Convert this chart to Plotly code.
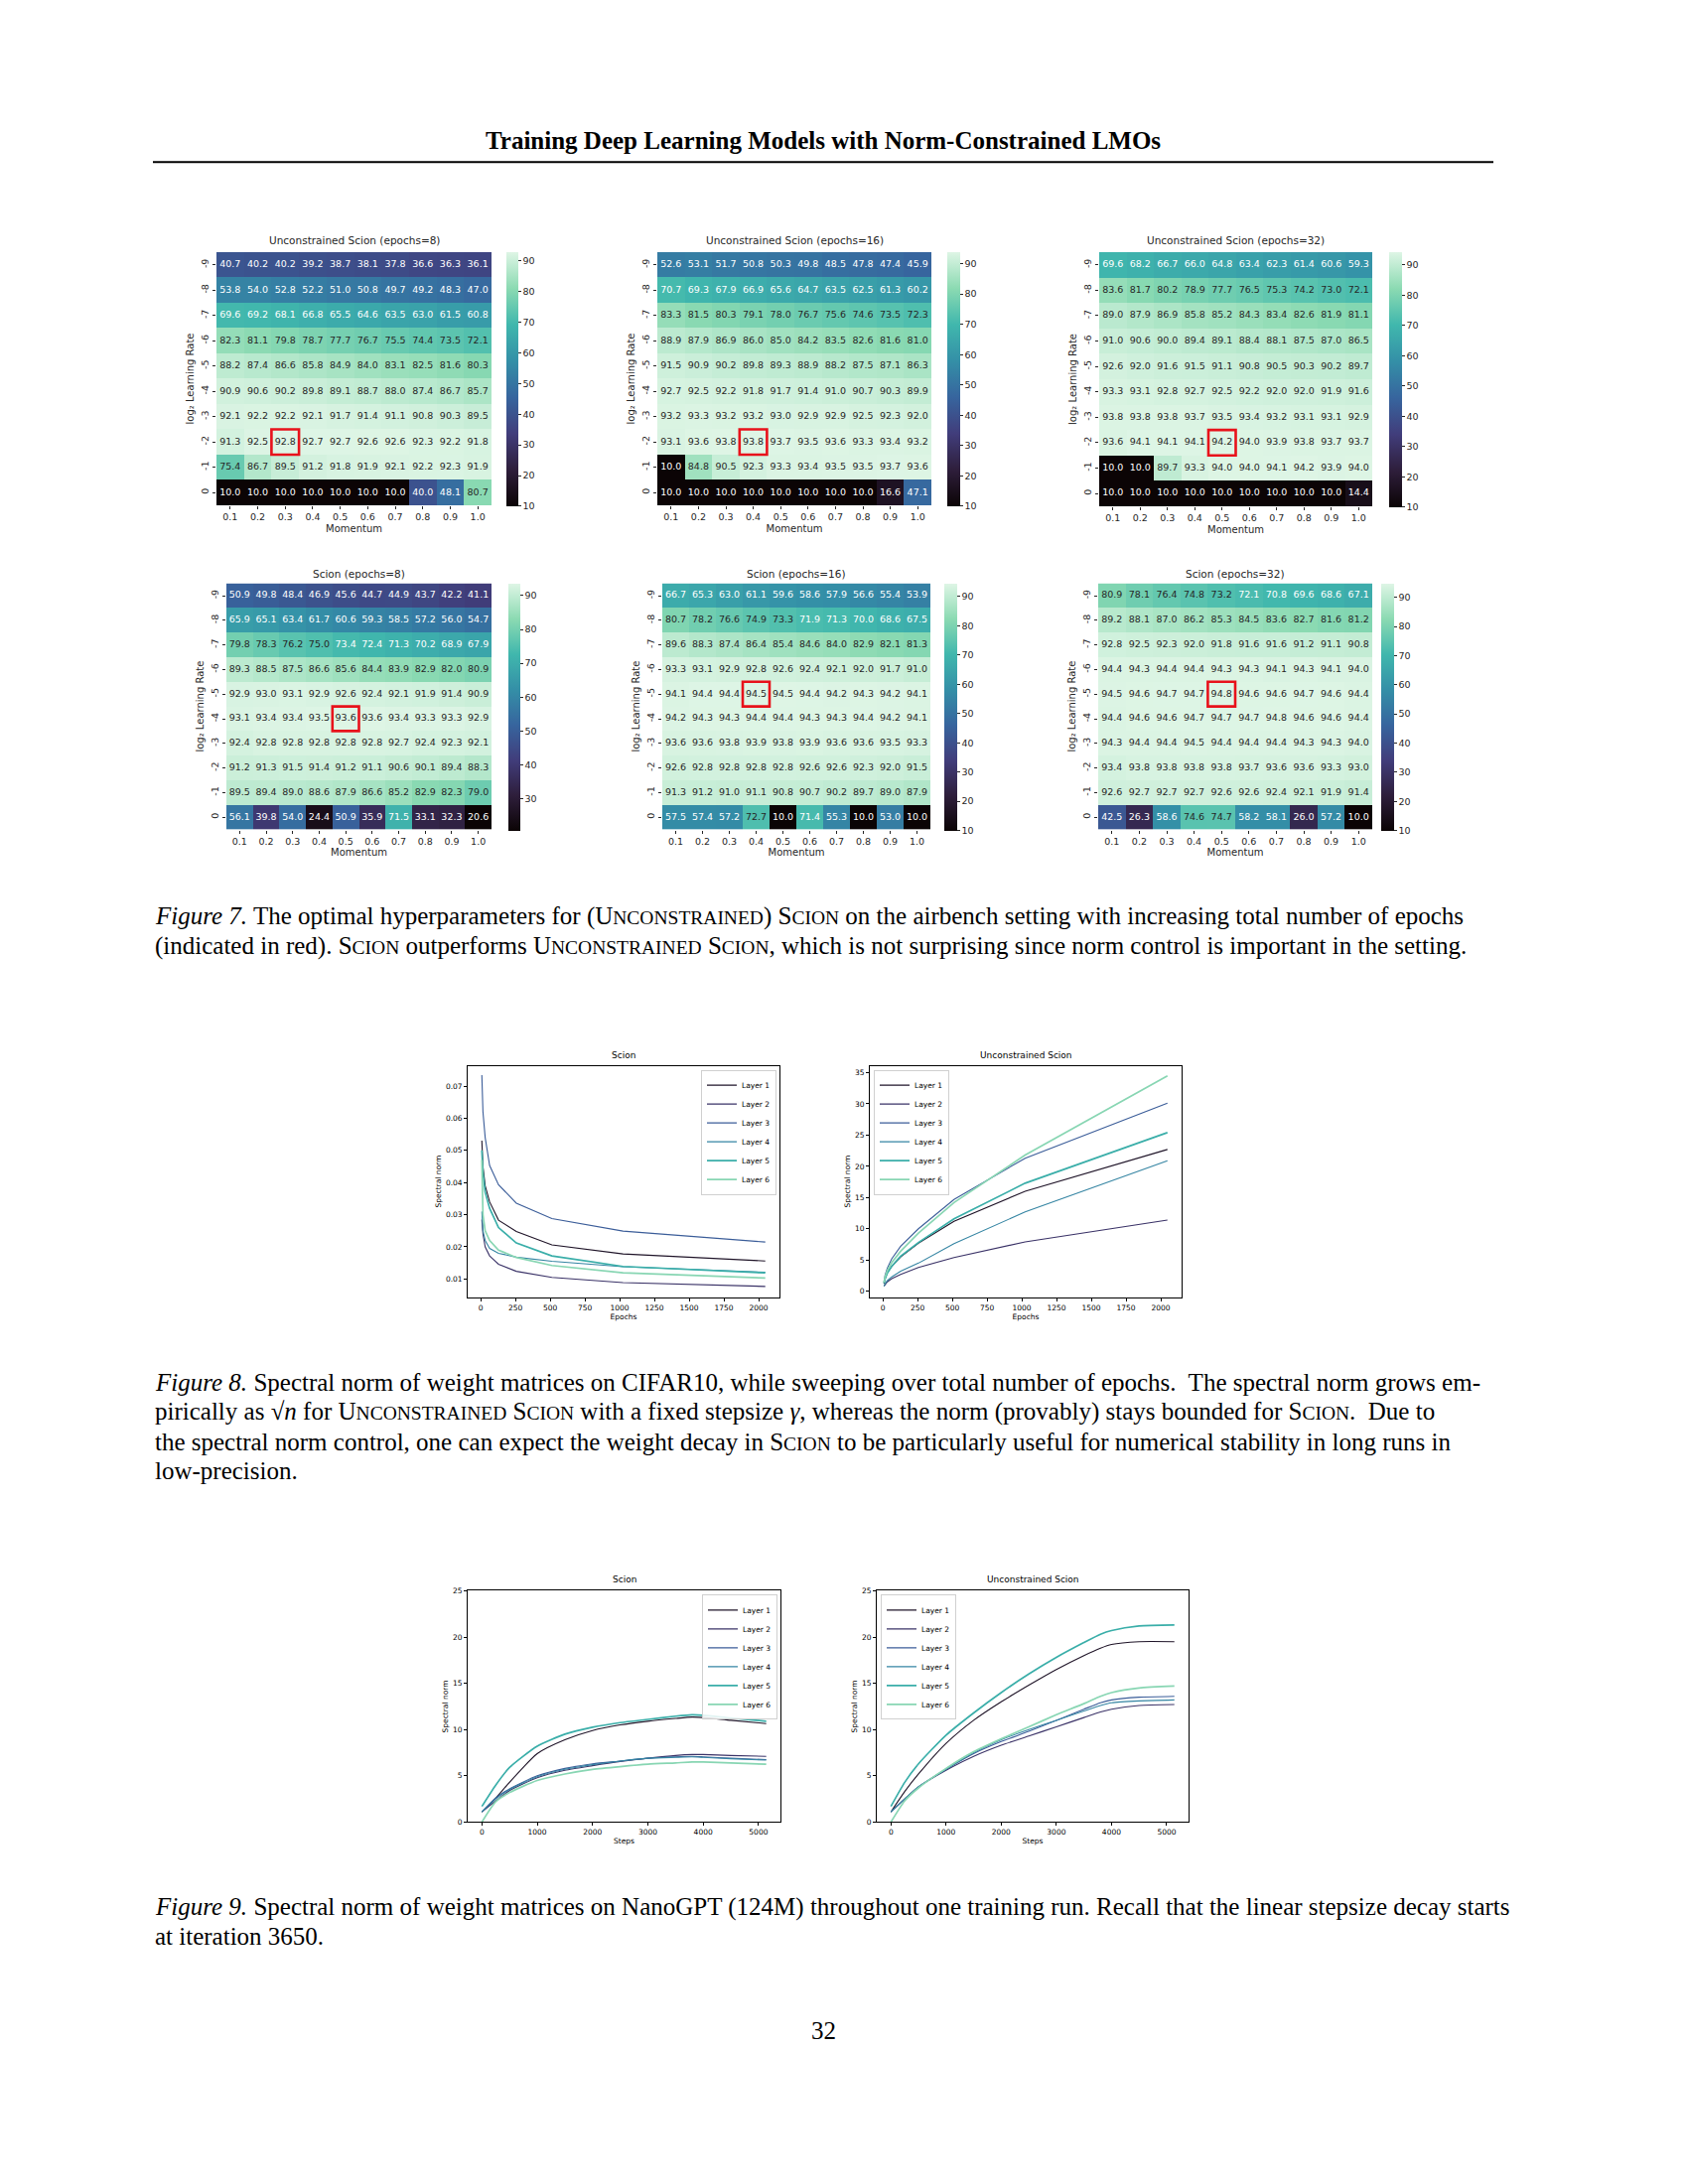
import plotly.graph_objects as go

# ---------------- data ----------------
momentum = ["0.1", "0.2", "0.3", "0.4", "0.5", "0.6", "0.7", "0.8", "0.9", "1.0"]
log2_lr = ["-9", "-8", "-7", "-6", "-5", "-4", "-3", "-2", "-1", "0"]

unc_e8 = [
    [40.7, 40.2, 40.2, 39.2, 38.7, 38.1, 37.8, 36.6, 36.3, 36.1],
    [53.8, 54.0, 52.8, 52.2, 51.0, 50.8, 49.7, 49.2, 48.3, 47.0],
    [69.6, 69.2, 68.1, 66.8, 65.5, 64.6, 63.5, 63.0, 61.5, 60.8],
    [82.3, 81.1, 79.8, 78.7, 77.7, 76.7, 75.5, 74.4, 73.5, 72.1],
    [88.2, 87.4, 86.6, 85.8, 84.9, 84.0, 83.1, 82.5, 81.6, 80.3],
    [90.9, 90.6, 90.2, 89.8, 89.1, 88.7, 88.0, 87.4, 86.7, 85.7],
    [92.1, 92.2, 92.2, 92.1, 91.7, 91.4, 91.1, 90.8, 90.3, 89.5],
    [91.3, 92.5, 92.8, 92.7, 92.7, 92.6, 92.6, 92.3, 92.2, 91.8],
    [75.4, 86.7, 89.5, 91.2, 91.8, 91.9, 92.1, 92.2, 92.3, 91.9],
    [10.0, 10.0, 10.0, 10.0, 10.0, 10.0, 10.0, 40.0, 48.1, 80.7],
]
unc_e16 = [
    [52.6, 53.1, 51.7, 50.8, 50.3, 49.8, 48.5, 47.8, 47.4, 45.9],
    [70.7, 69.3, 67.9, 66.9, 65.6, 64.7, 63.5, 62.5, 61.3, 60.2],
    [83.3, 81.5, 80.3, 79.1, 78.0, 76.7, 75.6, 74.6, 73.5, 72.3],
    [88.9, 87.9, 86.9, 86.0, 85.0, 84.2, 83.5, 82.6, 81.6, 81.0],
    [91.5, 90.9, 90.2, 89.8, 89.3, 88.9, 88.2, 87.5, 87.1, 86.3],
    [92.7, 92.5, 92.2, 91.8, 91.7, 91.4, 91.0, 90.7, 90.3, 89.9],
    [93.2, 93.3, 93.2, 93.2, 93.0, 92.9, 92.9, 92.5, 92.3, 92.0],
    [93.1, 93.6, 93.8, 93.8, 93.7, 93.5, 93.6, 93.3, 93.4, 93.2],
    [10.0, 84.8, 90.5, 92.3, 93.3, 93.4, 93.5, 93.5, 93.7, 93.6],
    [10.0, 10.0, 10.0, 10.0, 10.0, 10.0, 10.0, 10.0, 16.6, 47.1],
]
unc_e32 = [
    [69.6, 68.2, 66.7, 66.0, 64.8, 63.4, 62.3, 61.4, 60.6, 59.3],
    [83.6, 81.7, 80.2, 78.9, 77.7, 76.5, 75.3, 74.2, 73.0, 72.1],
    [89.0, 87.9, 86.9, 85.8, 85.2, 84.3, 83.4, 82.6, 81.9, 81.1],
    [91.0, 90.6, 90.0, 89.4, 89.1, 88.4, 88.1, 87.5, 87.0, 86.5],
    [92.6, 92.0, 91.6, 91.5, 91.1, 90.8, 90.5, 90.3, 90.2, 89.7],
    [93.3, 93.1, 92.8, 92.7, 92.5, 92.2, 92.0, 92.0, 91.9, 91.6],
    [93.8, 93.8, 93.8, 93.7, 93.5, 93.4, 93.2, 93.1, 93.1, 92.9],
    [93.6, 94.1, 94.1, 94.1, 94.2, 94.0, 93.9, 93.8, 93.7, 93.7],
    [10.0, 10.0, 89.7, 93.3, 94.0, 94.0, 94.1, 94.2, 93.9, 94.0],
    [10.0, 10.0, 10.0, 10.0, 10.0, 10.0, 10.0, 10.0, 10.0, 14.4],
]
scion_e8 = [
    [50.9, 49.8, 48.4, 46.9, 45.6, 44.7, 44.9, 43.7, 42.2, 41.1],
    [65.9, 65.1, 63.4, 61.7, 60.6, 59.3, 58.5, 57.2, 56.0, 54.7],
    [79.8, 78.3, 76.2, 75.0, 73.4, 72.4, 71.3, 70.2, 68.9, 67.9],
    [89.3, 88.5, 87.5, 86.6, 85.6, 84.4, 83.9, 82.9, 82.0, 80.9],
    [92.9, 93.0, 93.1, 92.9, 92.6, 92.4, 92.1, 91.9, 91.4, 90.9],
    [93.1, 93.4, 93.4, 93.5, 93.6, 93.6, 93.4, 93.3, 93.3, 92.9],
    [92.4, 92.8, 92.8, 92.8, 92.8, 92.8, 92.7, 92.4, 92.3, 92.1],
    [91.2, 91.3, 91.5, 91.4, 91.2, 91.1, 90.6, 90.1, 89.4, 88.3],
    [89.5, 89.4, 89.0, 88.6, 87.9, 86.6, 85.2, 82.9, 82.3, 79.0],
    [56.1, 39.8, 54.0, 24.4, 50.9, 35.9, 71.5, 33.1, 32.3, 20.6],
]
scion_e16 = [
    [66.7, 65.3, 63.0, 61.1, 59.6, 58.6, 57.9, 56.6, 55.4, 53.9],
    [80.7, 78.2, 76.6, 74.9, 73.3, 71.9, 71.3, 70.0, 68.6, 67.5],
    [89.6, 88.3, 87.4, 86.4, 85.4, 84.6, 84.0, 82.9, 82.1, 81.3],
    [93.3, 93.1, 92.9, 92.8, 92.6, 92.4, 92.1, 92.0, 91.7, 91.0],
    [94.1, 94.4, 94.4, 94.5, 94.5, 94.4, 94.2, 94.3, 94.2, 94.1],
    [94.2, 94.3, 94.3, 94.4, 94.4, 94.3, 94.3, 94.4, 94.2, 94.1],
    [93.6, 93.6, 93.8, 93.9, 93.8, 93.9, 93.6, 93.6, 93.5, 93.3],
    [92.6, 92.8, 92.8, 92.8, 92.8, 92.6, 92.6, 92.3, 92.0, 91.5],
    [91.3, 91.2, 91.0, 91.1, 90.8, 90.7, 90.2, 89.7, 89.0, 87.9],
    [57.5, 57.4, 57.2, 72.7, 10.0, 71.4, 55.3, 10.0, 53.0, 10.0],
]
scion_e32 = [
    [80.9, 78.1, 76.4, 74.8, 73.2, 72.1, 70.8, 69.6, 68.6, 67.1],
    [89.2, 88.1, 87.0, 86.2, 85.3, 84.5, 83.6, 82.7, 81.6, 81.2],
    [92.8, 92.5, 92.3, 92.0, 91.8, 91.6, 91.6, 91.2, 91.1, 90.8],
    [94.4, 94.3, 94.4, 94.4, 94.3, 94.3, 94.1, 94.3, 94.1, 94.0],
    [94.5, 94.6, 94.7, 94.7, 94.8, 94.6, 94.6, 94.7, 94.6, 94.4],
    [94.4, 94.6, 94.6, 94.7, 94.7, 94.7, 94.8, 94.6, 94.6, 94.4],
    [94.3, 94.4, 94.4, 94.5, 94.4, 94.4, 94.4, 94.3, 94.3, 94.0],
    [93.4, 93.8, 93.8, 93.8, 93.8, 93.7, 93.6, 93.6, 93.3, 93.0],
    [92.6, 92.7, 92.7, 92.7, 92.6, 92.6, 92.4, 92.1, 91.9, 91.4],
    [42.5, 26.3, 58.6, 74.6, 74.7, 58.2, 58.1, 26.0, 57.2, 10.0],
]
heat_titles = ["Unconstrained Scion (epochs=8)", "Unconstrained Scion (epochs=16)",
               "Unconstrained Scion (epochs=32)", "Scion (epochs=8)",
               "Scion (epochs=16)", "Scion (epochs=32)"]
best_lr = ["-2", "-2", "-2", "-4", "-5", "-5"]
best_mom = ["0.3", "0.4", "0.5", "0.5", "0.4", "0.5"]
cbar_ticks = [10, 20, 30, 40, 50, 60, 70, 80, 90]

layer_names = ["Layer 1", "Layer 2", "Layer 3", "Layer 4", "Layer 5", "Layer 6"]

# Figure 8 (CIFAR10, sweep over epochs)
epochs = [8, 16, 32, 64, 128, 256, 512, 1024, 2048]
f8_scion = [
    [0.0530, 0.0450, 0.0390, 0.0340, 0.0283, 0.0248, 0.0206, 0.0178, 0.0156],
    [0.0285, 0.0240, 0.0200, 0.0172, 0.0146, 0.0124, 0.0105, 0.0089, 0.0077],
    [0.0734, 0.0620, 0.0540, 0.0453, 0.0393, 0.0336, 0.0288, 0.0249, 0.0215],
    [0.0310, 0.0250, 0.0220, 0.0195, 0.0180, 0.0168, 0.0155, 0.0138, 0.0121],
    [0.0500, 0.0430, 0.0370, 0.0320, 0.0260, 0.0212, 0.0172, 0.0139, 0.0119],
    [0.0470, 0.0300, 0.0250, 0.0220, 0.0190, 0.0167, 0.0142, 0.0119, 0.0103],
]
f8_unc = [
    [1.2, 2.0, 3.0, 4.0, 5.5, 7.7, 11.2, 16.0, 22.7],
    [0.8, 1.1, 1.5, 2.0, 2.7, 3.8, 5.4, 7.9, 11.4],
    [1.5, 2.6, 3.7, 5.2, 7.2, 10.0, 14.7, 21.3, 30.1],
    [0.8, 1.2, 1.7, 2.3, 3.2, 4.5, 7.6, 12.7, 20.9],
    [1.3, 2.0, 2.9, 4.0, 5.6, 7.8, 11.6, 17.3, 25.4],
    [1.4, 2.3, 3.3, 4.6, 6.4, 9.3, 14.2, 21.8, 34.5],
]

# Figure 9 (NanoGPT, one training run)
steps = [0, 250, 500, 1000, 1500, 2000, 2500, 3000, 3500, 3800, 4000, 4500, 5140]
f9_scion = [
    [1.1, 2.6, 4.3, 7.4, 8.9, 9.9, 10.5, 10.9, 11.2, 11.35, 11.3, 11.0, 10.65],
    [1.1, 2.3, 3.4, 4.8, 5.6, 6.1, 6.55, 6.9, 7.2, 7.3, 7.3, 7.2, 7.1],
    [1.1, 2.6, 3.6, 5.0, 5.8, 6.3, 6.6, 6.9, 7.05, 7.1, 7.05, 6.9, 6.75],
    [1.1, 2.5, 3.5, 4.9, 5.7, 6.2, 6.6, 6.9, 7.0, 7.05, 7.0, 6.85, 6.7],
    [1.7, 4.0, 5.9, 8.2, 9.5, 10.25, 10.75, 11.1, 11.45, 11.6, 11.55, 11.25, 10.9],
    [0.0, 2.2, 3.2, 4.5, 5.2, 5.7, 6.0, 6.25, 6.4, 6.5, 6.5, 6.4, 6.25],
]
f9_unc = [
    [1.1, 3.3, 5.2, 8.5, 11.0, 13.0, 14.8, 16.5, 18.0, 18.8, 19.2, 19.5, 19.5],
    [1.1, 2.5, 3.8, 5.6, 7.1, 8.3, 9.3, 10.3, 11.3, 11.9, 12.2, 12.6, 12.7],
    [1.1, 2.5, 3.8, 5.7, 7.4, 8.7, 9.8, 11.0, 12.2, 12.9, 13.2, 13.5, 13.6],
    [1.1, 2.5, 3.8, 5.7, 7.5, 8.9, 10.0, 11.0, 12.0, 12.6, 12.9, 13.1, 13.2],
    [1.7, 4.3, 6.3, 9.4, 11.8, 14.0, 16.0, 17.8, 19.4, 20.3, 20.7, 21.2, 21.3],
    [0.0, 2.3, 3.7, 5.8, 7.6, 9.0, 10.3, 11.6, 12.8, 13.6, 14.0, 14.5, 14.7],
]

# ---------------- styling / layout ----------------
W, H, OFF = 1684, 2184, 8


def px(x):
    return (x - OFF) / W


def py(y):
    return 1 - (y - OFF) / H


MAKO = [[0.0, "#0B0405"], [0.143, "#2E1E3B"], [0.286, "#413D7B"], [0.429, "#37659E"],
        [0.571, "#348FA7"], [0.714, "#40B7AD"], [0.857, "#8BDAB2"], [1.0, "#DEF5E5"]]
LAYER_COLORS = ["#1f1428", "#3a3267", "#3b5d99", "#3585a3", "#3aaea9", "#88d6b3"]
LAYER_WIDTHS = [1.1, 1.1, 1.1, 1.1, 1.7, 1.7]
SANS = "DejaVu Sans"
SERIF = "Liberation Serif"
THRESH = 0.735

heat_boxes = [(218, 495, 251, 507, 510, 522), (662, 938, 251, 507, 954, 967),
              (1107, 1382, 251, 508, 1399, 1412), (228, 495, 586, 835, 512, 524),
              (667, 937, 586, 835, 951, 964), (1106, 1382, 586, 835, 1391, 1404)]
heat_title_y = [239, 239, 239, 576, 576, 576]
heat_data = [unc_e8, unc_e16, unc_e32, scion_e8, scion_e16, scion_e32]

fig = go.Figure()
layout = {}
annotations = []
shapes = []


def ax_names(i):
    return ("x" if i == 1 else f"x{i}", "y" if i == 1 else f"y{i}",
            "xaxis" if i == 1 else f"xaxis{i}", "yaxis" if i == 1 else f"yaxis{i}")


for k, z in enumerate(heat_data):
    i = k + 1
    xa, ya, xl, yl = ax_names(i)
    x0, x1, y0, y1, cb0, cb1 = heat_boxes[k]
    flat = [v for row in z for v in row]
    zmin, zmax = min(flat), max(flat)
    fig.add_trace(go.Heatmap(
        z=z, x=momentum, y=log2_lr, colorscale=MAKO, zmin=zmin, zmax=zmax,
        xaxis=xa, yaxis=ya, hoverinfo="skip",
        colorbar=dict(x=px(cb0), xanchor="left", y=py(y0), yanchor="top",
                      len=y1 - y0, lenmode="pixels", thickness=cb1 - cb0,
                      thicknessmode="pixels", outlinewidth=0, ticks="outside",
                      ticklen=3, tickwidth=0.8, tickcolor="#262626",
                      tickvals=cbar_ticks, xpad=0, ypad=0,
                      tickfont=dict(family=SANS, size=9.5, color="#262626")),
    ))
    for light in (True, False):
        xs, ys, ts = [], [], []
        for r, lr in enumerate(log2_lr):
            for c, m in enumerate(momentum):
                v = z[r][c]
                t = (v - zmin) / (zmax - zmin)
                if (t < THRESH) == light:
                    xs.append(m)
                    ys.append(lr)
                    ts.append(f"{v:.1f}")
        fig.add_trace(go.Scatter(
            x=xs, y=ys, text=ts, mode="text", xaxis=xa, yaxis=ya,
            textfont=dict(family=SANS, size=9.5, color="white" if light else "#262626"),
            showlegend=False, hoverinfo="skip"))
    layout[xl] = dict(domain=[px(x0), px(x1)], anchor=ya, type="category",
                      categoryorder="array", categoryarray=momentum,
                      showgrid=False, zeroline=False, showline=False,
                      ticks="outside", ticklen=3, tickwidth=0.8, tickcolor="#262626",
                      tickfont=dict(family=SANS, size=9.5, color="#262626"),
                      title=dict(text="Momentum", standoff=3,
                                 font=dict(family=SANS, size=10, color="#262626")))
    layout[yl] = dict(domain=[py(y1), py(y0)], anchor=xa, type="category",
                      categoryorder="array", categoryarray=log2_lr, autorange="reversed",
                      showgrid=False, zeroline=False, showline=False, tickangle=-90,
                      ticks="outside", ticklen=3, tickwidth=0.8, tickcolor="#262626",
                      tickfont=dict(family=SANS, size=9.5, color="#262626"),
                      title=dict(text="log₂ Learning Rate", standoff=3,
                                 font=dict(family=SANS, size=10, color="#262626")))
    annotations.append(dict(text=heat_titles[k], x=px((x0 + x1) / 2), y=py(heat_title_y[k]),
                            xref="paper", yref="paper", showarrow=False,
                            xanchor="center", yanchor="middle",
                            font=dict(family=SANS, size=10.5, color="#262626")))
    ci = momentum.index(best_mom[k])
    ri = log2_lr.index(best_lr[k])
    shapes.append(dict(type="rect", xref=xa, yref=ya, x0=ci - 0.5, x1=ci + 0.5,
                       y0=ri - 0.5, y1=ri + 0.5, line=dict(color="#e8121b", width=2.6)))

# ---- line charts ----
line_boxes = [(471, 785, 1074, 1308), (876, 1190, 1074, 1308),
              (471, 786, 1605, 1839), (883, 1197, 1605, 1839)]
line_titles = ["Scion", "Unconstrained Scion", "Scion", "Unconstrained Scion"]
line_title_y = [1063, 1063, 1594, 1594]
line_series = [(epochs, f8_scion), (epochs, f8_unc), (steps, f9_scion), (steps, f9_unc)]
x_ranges = [[-94, 2150], [-94, 2150], [-257, 5397], [-257, 5397]]
y_ranges = [[0.00436, 0.0763], [-0.95, 36.1], [0, 25], [0, 25]]
x_ticks = [[0, 250, 500, 750, 1000, 1250, 1500, 1750, 2000]] * 2 + [[0, 1000, 2000, 3000, 4000, 5000]] * 2
y_ticks = [[0.01, 0.02, 0.03, 0.04, 0.05, 0.06, 0.07], [0, 5, 10, 15, 20, 25, 30, 35],
           [0, 5, 10, 15, 20, 25], [0, 5, 10, 15, 20, 25]]
x_titles = ["Epochs", "Epochs", "Steps", "Steps"]
legend_names = ["legend", "legend2", "legend3", "legend4"]
legend_pos = [(782, 1078, "right"), (880, 1078, "left"), (783, 1609, "right"), (887, 1609, "left")]
shape_kind = ["linear", "linear", "spline", "spline"]

for k in range(4):
    i = 7 + k
    xa, ya, xl, yl = ax_names(i)
    x0, x1, y0, y1 = line_boxes[k]
    xs, series = line_series[k]
    for j, vals in enumerate(series):
        fig.add_trace(go.Scatter(
            x=xs, y=vals, mode="lines", name=layer_names[j], xaxis=xa, yaxis=ya,
            legend=legend_names[k],
            line=dict(color=LAYER_COLORS[j], width=LAYER_WIDTHS[j], shape=shape_kind[k],
                      smoothing=0.6 if shape_kind[k] == "spline" else None),
            hoverinfo="skip"))
    common = dict(showgrid=False, zeroline=False, showline=True, mirror=True,
                  linecolor="black", linewidth=0.8, ticks="outside", ticklen=3,
                  tickwidth=0.8, tickcolor="black",
                  tickfont=dict(family=SANS, size=7.5, color="black"))
    layout[xl] = dict(domain=[px(x0), px(x1)], anchor=ya, range=x_ranges[k],
                      tickvals=x_ticks[k],
                      title=dict(text=x_titles[k], standoff=2,
                                 font=dict(family=SANS, size=7.5, color="black")),
                      **common)
    layout[yl] = dict(domain=[py(y1), py(y0)], anchor=xa, range=y_ranges[k],
                      tickvals=y_ticks[k],
                      title=dict(text="Spectral norm", standoff=3,
                                 font=dict(family=SANS, size=7.5, color="black")),
                      **common)
    lx, ly, side = legend_pos[k]
    layout[legend_names[k]] = dict(x=px(lx), y=py(ly), xanchor=side, yanchor="top",
                                   xref="paper", yref="paper",
                                   bgcolor="rgba(255,255,255,0.85)", bordercolor="#d0d0d0",
                                   borderwidth=1, font=dict(family=SANS, size=7.5, color="black"),
                                   itemwidth=30, tracegroupgap=0)
    annotations.append(dict(text=line_titles[k], x=px((x0 + x1) / 2), y=py(line_title_y[k]),
                            xref="paper", yref="paper", showarrow=False,
                            xanchor="center", yanchor="middle",
                            font=dict(family=SANS, size=9, color="black")))

# ---- page text ----
SC_SIZE = 19.5


def sc(word):
    return word[0] + f"<span style='font-size:{SC_SIZE}px'>{word[1:]}</span>"


UNC = sc("UNCONSTRAINED")
SCI = sc("SCION")
page_lines = [
    (923, f"<i>Figure 7.</i> The optimal hyperparameters for ({UNC}) {SCI} on the airbench setting with increasing total number of epochs"),
    (953, f"(indicated in red). {SCI} outperforms {UNC} {SCI}, which is not surprising since norm control is important in the setting."),
    (1394, "<i>Figure 8.</i> Spectral norm of weight matrices on CIFAR10, while sweeping over total number of epochs.  The spectral norm grows em-"),
    (1424, f"pirically as √<i>n</i> for {UNC} {SCI} with a fixed stepsize <i>γ</i>, whereas the norm (provably) stays bounded for {SCI}.  Due to"),
    (1454, f"the spectral norm control, one can expect the weight decay in {SCI} to be particularly useful for numerical stability in long runs in"),
    (1484, "low-precision."),
    (1925, "<i>Figure 9.</i> Spectral norm of weight matrices on NanoGPT (124M) throughout one training run. Recall that the linear stepsize decay starts"),
    (1955, "at iteration 3650."),
]
for yy, txt in page_lines:
    annotations.append(dict(text=txt, x=px(154), y=py(yy), xref="paper", yref="paper",
                            showarrow=False, xanchor="left", yanchor="middle",
                            font=dict(family=SERIF, size=25, color="black")))

annotations.append(dict(text="<b>Training Deep Learning Models with Norm-Constrained LMOs</b>",
                        x=px(829), y=py(138), xref="paper", yref="paper", showarrow=False,
                        xanchor="center", yanchor="middle",
                        font=dict(family=SERIF, size=25, color="black")))
annotations.append(dict(text="32", x=px(829), y=py(2050), xref="paper", yref="paper",
                        showarrow=False, xanchor="center", yanchor="middle",
                        font=dict(family=SERIF, size=25, color="black")))
shapes.append(dict(type="line", xref="paper", yref="paper", x0=px(154), x1=px(1504),
                   y0=py(160), y1=py(160), line=dict(color="black", width=2)))

fig.update_layout(
    width=W, height=H, margin=dict(l=0, r=0, t=0, b=0),
    paper_bgcolor="white", plot_bgcolor="white",
    annotations=annotations, shapes=shapes, **layout)

fig.write_html("out.html")
